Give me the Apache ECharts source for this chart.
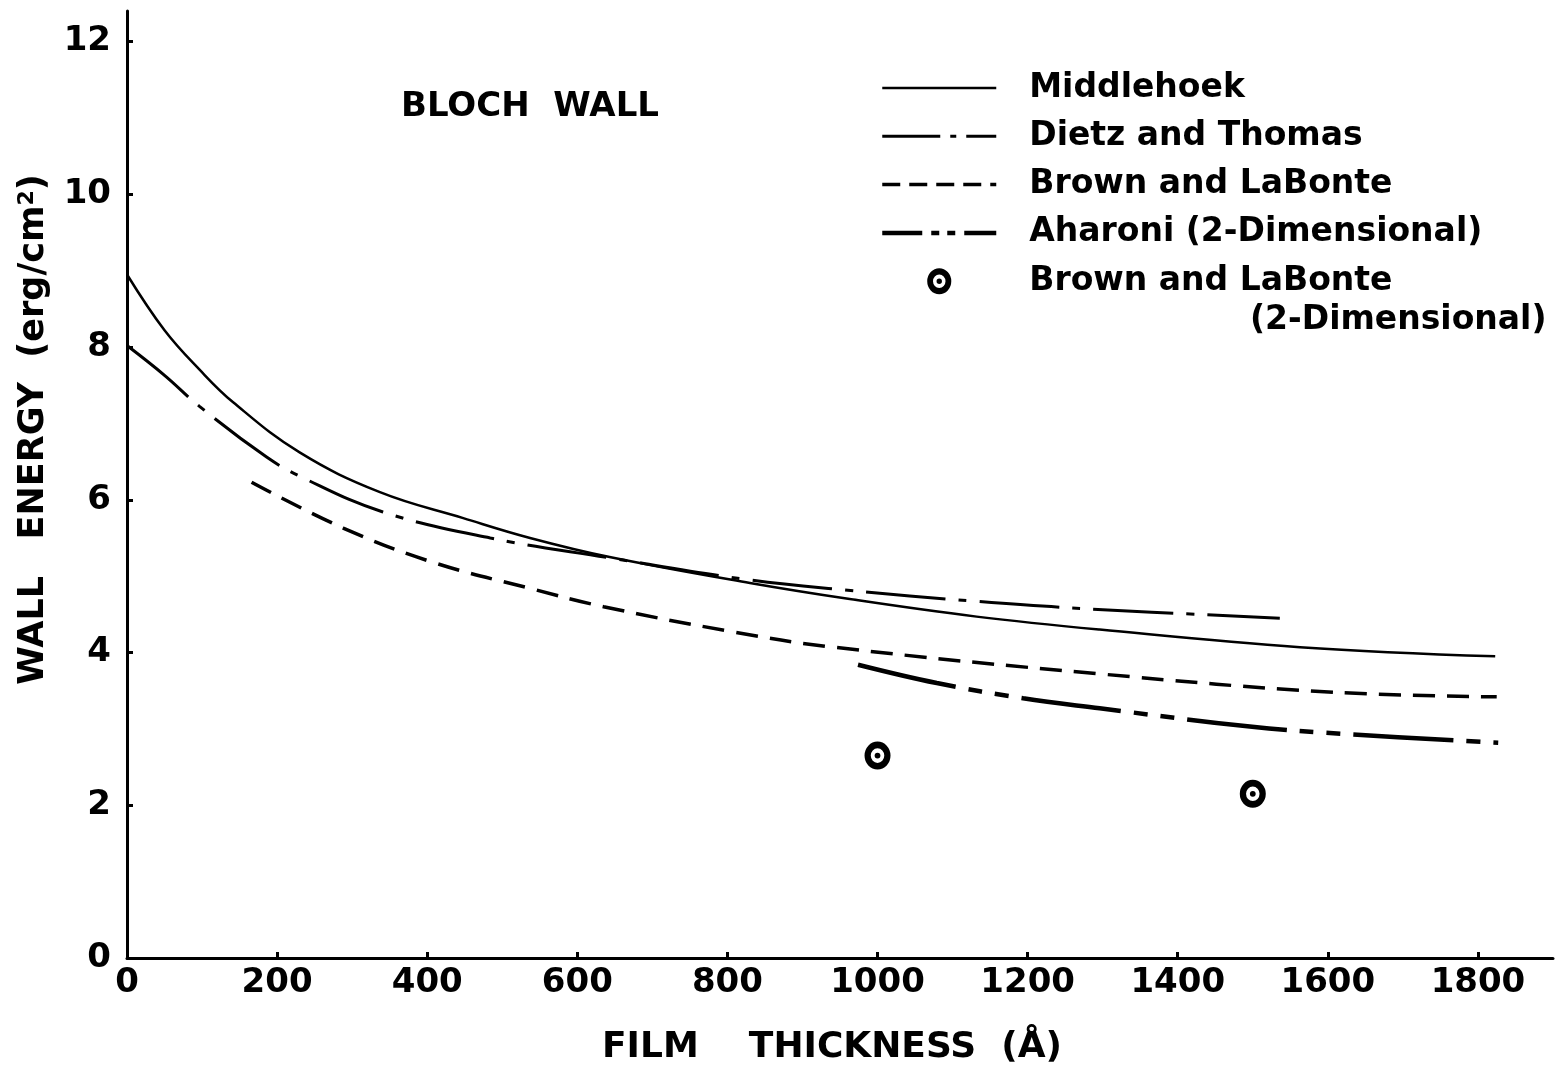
<!DOCTYPE html>
<html>
<head>
<meta charset="utf-8">
<script src="https://cdn.jsdelivr.net/npm/echarts@6/dist/echarts.min.js"></script>
<style>
html,body{margin:0;padding:0;background:#fff;}
#chart{width:1558px;height:1069px;}
</style>
</head>
<body>
<div id="chart"></div>
<script>
// ---- data ----
const xTicks = [0, 200, 400, 600, 800, 1000, 1200, 1400, 1600, 1800];
const yTicks = [0, 2, 4, 6, 8, 10, 12];

const middlehoekX = [0, 50, 97, 141, 230, 337, 448, 537, 643, 830, 963, 1132, 1296, 1563, 1823];
const middlehoekY = [8.95, 8.22, 7.70, 7.28, 6.62, 6.10, 5.76, 5.50, 5.25, 4.91, 4.70, 4.47, 4.30, 4.07, 3.95];

const dietzX = [0, 50, 97, 186, 234, 341, 484, 643, 830, 954, 1132, 1283, 1536];
const dietzY = [8.02, 7.63, 7.22, 6.56, 6.29, 5.84, 5.50, 5.24, 4.95, 4.82, 4.67, 4.57, 4.45];

const brownX = [166, 288, 408, 537, 635, 808, 941, 1296, 1607, 1825];
const brownY = [6.23, 5.63, 5.18, 4.84, 4.60, 4.27, 4.07, 3.72, 3.48, 3.42];

const aharoniX = [974, 1079, 1194, 1296, 1496, 1629, 1827];
const aharoniY = [3.84, 3.60, 3.40, 3.27, 3.03, 2.93, 2.82];

const brown2dX = [1000, 1500];
const brown2dY = [2.65, 2.15];

const seriesNames = ['Middlehoek', 'Dietz and Thomas', 'Brown and LaBonte', 'Aharoni (2-Dimensional)', 'Brown and LaBonte (2-Dimensional)'];

// ---- chart ----
const FONT = "'DejaVu Sans', 'Liberation Sans', sans-serif";
const pair = (xs, ys) => xs.map((x, i) => [x, ys[i]]);

// ring with centre dot (outer clockwise, hole counter-clockwise, dot clockwise)
const ringSymbol = 'path://M13,0.5 A12.5,13.5 0 1,1 13,27.5 A12.5,13.5 0 1,1 13,0.5 Z ' +
  'M13,7 A6.5,7 0 1,0 13,21 A6.5,7 0 1,0 13,7 Z ' +
  'M13,11.2 A2.8,2.8 0 1,1 13,16.8 A2.8,2.8 0 1,1 13,11.2 Z';

const chart = echarts.init(document.getElementById('chart'), null, {renderer: 'canvas'});

function lineSeries(name, data, width, dash) {
  return {
    name: name, type: 'line', data: data, smooth: 0.4,
    symbol: 'none', silent: true,
    lineStyle: {color: '#000', width: width, type: dash, cap: 'butt'},
    itemStyle: {color: '#000'},
    emphasis: {disabled: true}
  };
}

const option = {
  backgroundColor: '#fff',
  animation: false,
  title: {
    text: 'BLOCH  WALL', left: 401, top: 90, padding: 0,
    textStyle: {fontFamily: FONT, fontWeight: 'bold', fontSize: 34, color: '#000'}
  },
  grid: {left: 127, right: 5, top: 11, bottom: 111, outerBoundsMode: 'none', containLabel: false},
  legend: {
    orient: 'vertical', left: 880, top: 68, padding: 0,
    itemWidth: 114, itemHeight: 26, itemGap: 8.3,
    selectedMode: false,
    itemStyle: {opacity: 0},
    lineStyle: {width: 'inherit', type: 'inherit'},
    data: [
      {name: seriesNames[0]},
      {name: seriesNames[1], lineStyle: {type: [58, 10, 6, 10]}},
      {name: seriesNames[2], lineStyle: {type: [18, 9]}},
      {name: seriesNames[3], lineStyle: {type: [40, 9, 8, 8, 8, 9]}},
      {name: seriesNames[4], itemStyle: {opacity: 1}}
    ],
    formatter: function (n) { return n === 'Brown and LaBonte (2-Dimensional)' ? 'Brown and LaBonte' : n; },
    textStyle: {fontFamily: FONT, fontWeight: 'bold', fontSize: 33, color: '#000', lineHeight: 40, padding: [0, 0, 0, 28]}
  },
  xAxis: {
    type: 'value', min: 0, max: 1900, interval: 200,
    name: 'FILM    THICKNESS  (Å)', nameLocation: 'middle', nameGap: 72,
    nameTextStyle: {fontFamily: FONT, fontWeight: 'bold', fontSize: 36, color: '#000', padding: [0, 16, 0, 0]},
    axisLine: {lineStyle: {color: '#000', width: 3}},
    axisTick: {inside: true, length: 6, lineStyle: {color: '#000', width: 3}, customValues: xTicks},
    axisLabel: {fontFamily: FONT, fontWeight: 'bold', fontSize: 34, color: '#000', margin: 8, customValues: xTicks,
      formatter: v => String(v)},
    splitLine: {show: false}
  },
  yAxis: {
    type: 'value', min: 0, max: 12.4, interval: 2,
    name: 'WALL   ENERGY  (erg/cm{sup|2})', nameLocation: 'middle', nameGap: 75,
    nameTextStyle: {
      fontFamily: FONT, fontWeight: 'bold', fontSize: 35, color: '#000', padding: [0, 0, 0, 110],
      rich: {sup: {fontFamily: FONT, fontWeight: 'bold', fontSize: 22, color: '#000', verticalAlign: 'top', padding: [0, 0, 14, 0]}}
    },
    axisLine: {lineStyle: {color: '#000', width: 3}},
    axisTick: {inside: true, length: 6, lineStyle: {color: '#000', width: 3}, customValues: yTicks},
    axisLabel: {fontFamily: FONT, fontWeight: 'bold', fontSize: 34, color: '#000', margin: 16, customValues: yTicks,
      formatter: v => String(v)},
    splitLine: {show: false}
  },
  graphic: [{
    type: 'text', left: 1250, top: 304,
    style: {text: '(2-Dimensional)', font: "bold 33px 'DejaVu Sans', sans-serif", fill: '#000'}
  }],
  series: [
    lineSeries(seriesNames[0], pair(middlehoekX, middlehoekY), 2.5, 'solid'),
    lineSeries(seriesNames[1], pair(dietzX, dietzY), 3, [80, 13, 8, 13]),
    lineSeries(seriesNames[2], pair(brownX, brownY), 3.5, [22, 12]),
    lineSeries(seriesNames[3], pair(aharoniX, aharoniY), 4.5, [100, 13, 14, 13, 14, 13]),
    {
      name: seriesNames[4], type: 'scatter', data: pair(brown2dX, brown2dY),
      symbol: ringSymbol, symbolSize: [26, 28], silent: true,
      itemStyle: {color: '#000', opacity: 1}, emphasis: {disabled: true}
    }
  ]
};
chart.setOption(option);
</script>
</body>
</html>
